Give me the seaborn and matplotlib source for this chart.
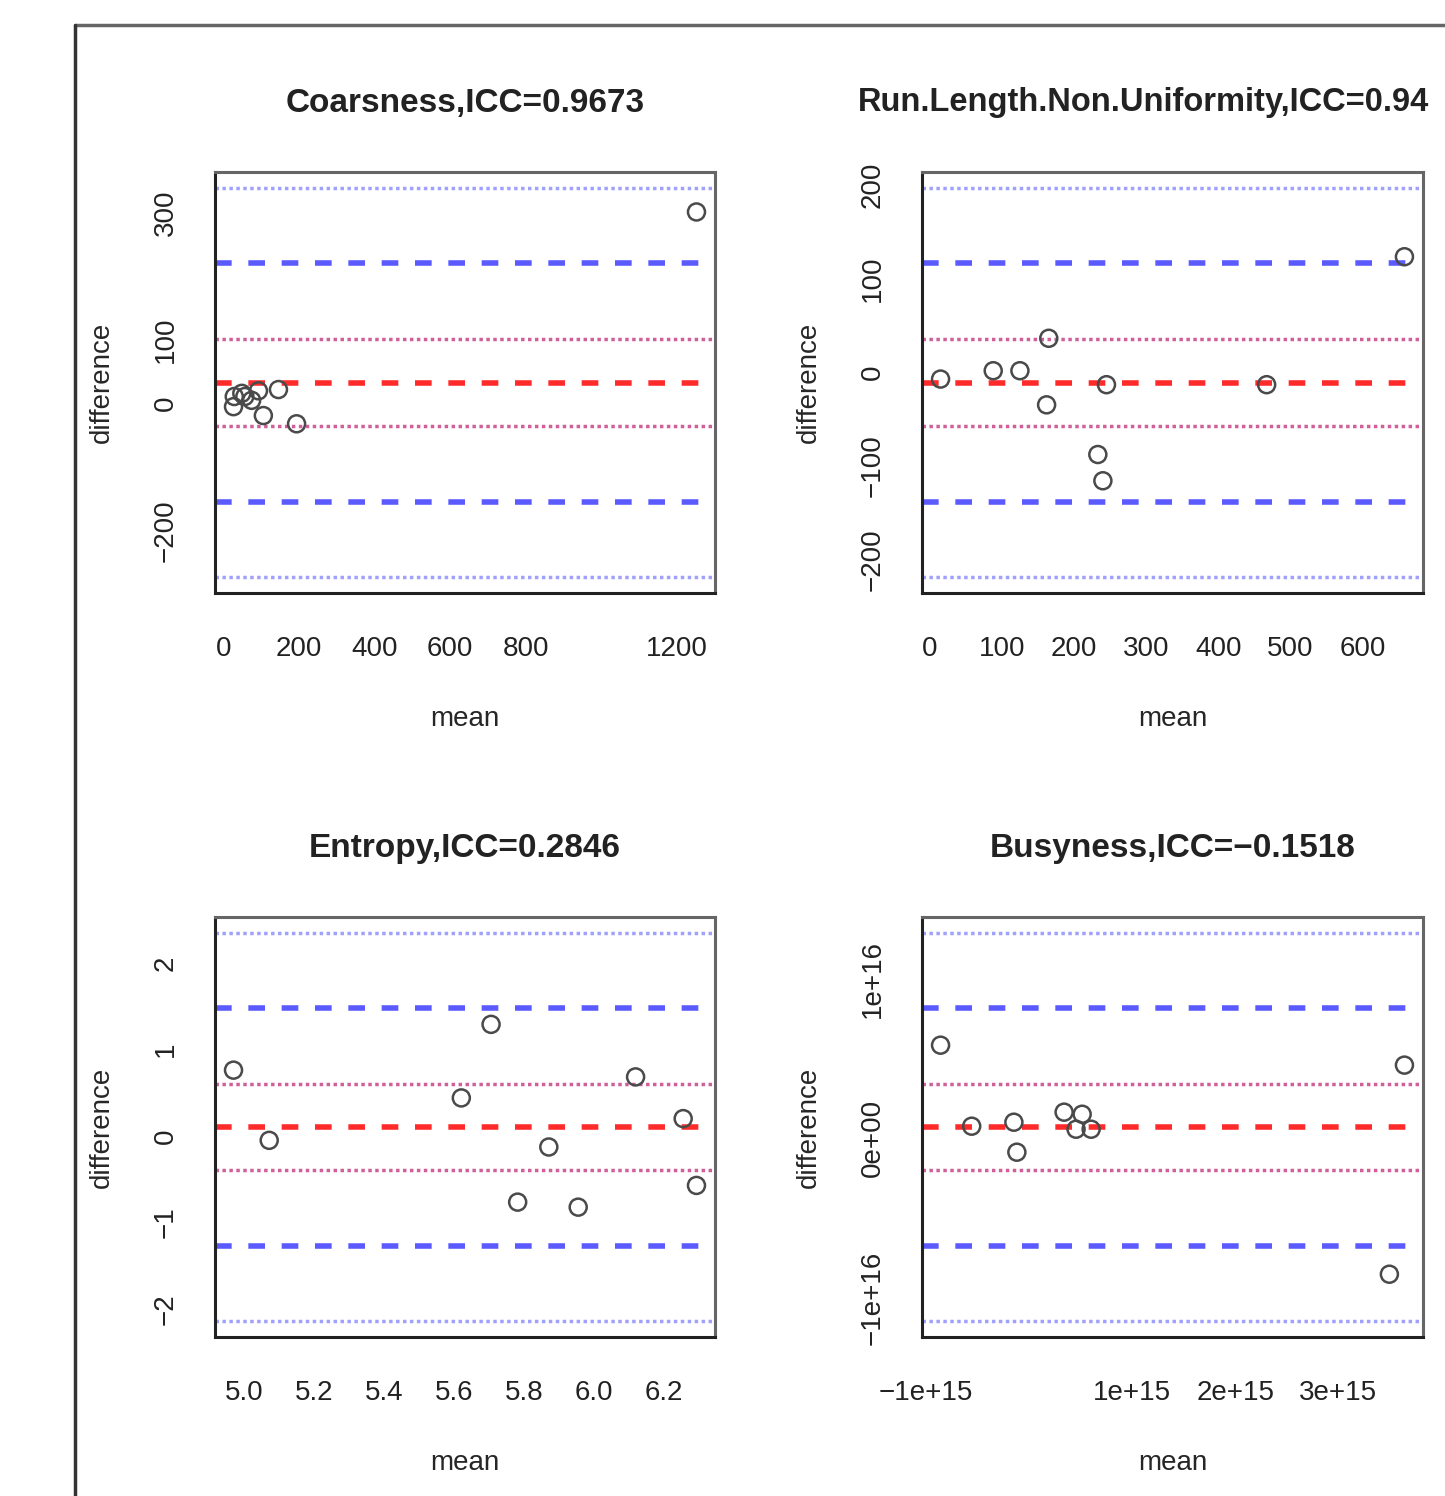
import numpy as np
import pandas as pd
import matplotlib
matplotlib.use("Agg")
import matplotlib.pyplot as plt
from matplotlib.lines import Line2D
import seaborn as sns

# -----------------------------
# Data
# -----------------------------
coarse_mean = [28, 26, 48, 56, 74, 92, 105, 145, 193, 1252]
coarse_diff = [11, -5, 16, 11, 5, 20, -19, 22, -32, 302]

rlnu_mean = [15, 88, 125, 162, 165, 233, 240, 245, 467, 658]
rlnu_diff = [-7.5, 1.4, 1.4, -35, 36, -88, -116, -13.5, -13.5, 123]

entropy_mean = [4.970, 5.072, 5.621, 5.706, 5.782, 5.871, 5.955, 6.119, 6.255, 6.293]
entropy_diff = [0.761, -0.050, 0.440, 1.290, -0.764, -0.127, -0.822, 0.683, 0.201, -0.571]

busy_mean = [-8.57e14, -5.55e14, -1.46e14, -1.17e14, 3.41e14, 5.16e14, 4.57e14, 6.03e14, 3.495e15, 3.641e15]
busy_diff = [5.83e15, 7.5e14, 1.0e15, -8.8e14, 1.63e15, 1.50e15, 5.6e14, 5.6e14, -8.53e15, 4.58e15]

# the second title is cropped at the right edge in the reference
titles = ["Coarsness,ICC=0.9673", "Run.Length.Non.Uniformity,ICC=0.94",
          "Entropy,ICC=0.2846", "Busyness,ICC=\u22120.1518"]

coarse_xticks = [0, 200, 400, 600, 800, 1000, 1200]
coarse_xlabels = ["0", "200", "400", "600", "800", "", "1200"]
coarse_yticks = [-200, -100, 0, 100, 200, 300]
coarse_ylabels = ["\u2212200", "", "0", "100", "", "300"]

rlnu_xticks = [0, 100, 200, 300, 400, 500, 600]
rlnu_xlabels = ["0", "100", "200", "300", "400", "500", "600"]
rlnu_yticks = [-200, -100, 0, 100, 200]
rlnu_ylabels = ["\u2212200", "\u2212100", "0", "100", "200"]

entropy_xticks = [5.0, 5.2, 5.4, 5.6, 5.8, 6.0, 6.2]
entropy_xlabels = ["5.0", "5.2", "5.4", "5.6", "5.8", "6.0", "6.2"]
entropy_yticks = [-2, -1, 0, 1, 2]
entropy_ylabels = ["\u22122", "\u22121", "0", "1", "2"]

busy_xticks = [-1e15, 0, 1e15, 2e15, 3e15]
busy_xlabels = ["\u22121e+15", "", "1e+15", "2e+15", "3e+15"]
busy_yticks = [-1e16, -5e15, 0, 5e15, 1e16]
busy_ylabels = ["\u22121e+16", "", "0e+00", "", "1e+16"]

T975 = 2.262  # t quantile, df = 9

# -----------------------------
# Style
# -----------------------------
sns.set_style("white")
plt.rcParams["font.family"] = ["Liberation Sans", "DejaVu Sans"]
plt.rcParams["text.color"] = "#222222"

W, H = 1445, 1496
fig = plt.figure(figsize=(W / 100, H / 100), dpi=100)

# outer frame (partially cropped in the reference)
fig.add_artist(Line2D([75 / W, 1.0], [1 - 25 / H, 1 - 25 / H], color="#666666", lw=2.5))
fig.add_artist(Line2D([75 / W, 75 / W], [0.0, 1 - 25 / H], color="#333333", lw=2.5))

boxes = [(215, 715, 172, 593), (922, 1423, 172, 593),
         (215, 715, 917, 1337), (922, 1423, 917, 1337)]

panels = [
    (coarse_mean, coarse_diff, coarse_xticks, coarse_xlabels, coarse_yticks, coarse_ylabels),
    (rlnu_mean, rlnu_diff, rlnu_xticks, rlnu_xlabels, rlnu_yticks, rlnu_ylabels),
    (entropy_mean, entropy_diff, entropy_xticks, entropy_xlabels, entropy_yticks, entropy_ylabels),
    (busy_mean, busy_diff, busy_xticks, busy_xlabels, busy_yticks, busy_ylabels),
]

for i, ((l, r, t, b), title, (m, d, xt, xl, yt, yl)) in enumerate(zip(boxes, titles, panels)):
    ax = fig.add_axes([l / W, 1 - b / H, (r - l) / W, (b - t) / H])
    df = pd.DataFrame({"mean": m, "difference": d})

    # Bland-Altman reference lines
    n = len(df)
    dbar = df["difference"].mean()
    s = df["difference"].std()
    ci_m = T975 * s / np.sqrt(n)
    lo, hi = dbar - 1.96 * s, dbar + 1.96 * s
    ci_loa = T975 * s * np.sqrt(3 / n)

    ax.axhline(hi + ci_loa, color="#a0a0ff", lw=2.5, ls=(0, (1, 1)), zorder=1)
    ax.axhline(lo - ci_loa, color="#a0a0ff", lw=2.5, ls=(0, (1, 1)), zorder=1)
    ax.axhline(hi, color="#5a5aff", lw=4, ls=(0, (3, 3)), zorder=1)
    ax.axhline(lo, color="#5a5aff", lw=4, ls=(0, (3, 3)), zorder=1)
    ax.axhline(dbar + ci_m, color="#d0609a", lw=2.5, ls=(0, (1, 1)), zorder=1)
    ax.axhline(dbar - ci_m, color="#d0609a", lw=2.5, ls=(0, (1, 1)), zorder=1)
    ax.axhline(dbar, color="#ff2a2a", lw=4, ls=(0, (3, 3)), zorder=1)

    sns.scatterplot(data=df, x="mean", y="difference", ax=ax, marker="o", s=150,
                    facecolor="none", edgecolor="#4a4a4a", linewidth=1.8, zorder=3)

    # R-style 4% padding
    xr = max(m) - min(m)
    ax.set_xlim(min(m) - 0.04 * xr, max(m) + 0.04 * xr)
    ylo = min(lo - ci_loa, min(d))
    yhi = max(hi + ci_loa, max(d))
    yr = yhi - ylo
    ax.set_ylim(ylo - 0.04 * yr, yhi + 0.04 * yr)

    ax.set_xticks(xt)
    ax.set_xticklabels(xl)
    ax.set_yticks(yt)
    ax.set_yticklabels(yl)
    ax.tick_params(axis="both", direction="out", length=14, width=2, color="#333333",
                   labelsize=20, labelcolor="#222222")
    ax.tick_params(axis="x", pad=17)
    ax.tick_params(axis="y", pad=12, labelrotation=90)
    for lab in ax.get_yticklabels():
        lab.set_va("center")

    for side in ["left", "bottom"]:
        ax.spines[side].set_color("#222222")
        ax.spines[side].set_linewidth(2.2)
    for side in ["top", "right"]:
        ax.spines[side].set_color("#666666")
        ax.spines[side].set_linewidth(2.2)

    if i == 1:
        # cropped title: start where the reference starts
        ax.text((858 - l) / (r - l), 1 + (172 - 102) / (b - t), title, transform=ax.transAxes,
                ha="left", va="center", fontsize=23.5, fontweight="bold", color="#222222")
    else:
        ax.set_title(title, fontsize=24, fontweight="bold", pad=43, color="#222222")
    ax.set_xlabel("mean", fontsize=20)
    ax.set_ylabel("difference", fontsize=20)
    ax.xaxis.set_label_coords(0.5, -0.268)
    ax.yaxis.set_label_coords(-0.2, 0.5)

fig.savefig("out.png", dpi=100)
